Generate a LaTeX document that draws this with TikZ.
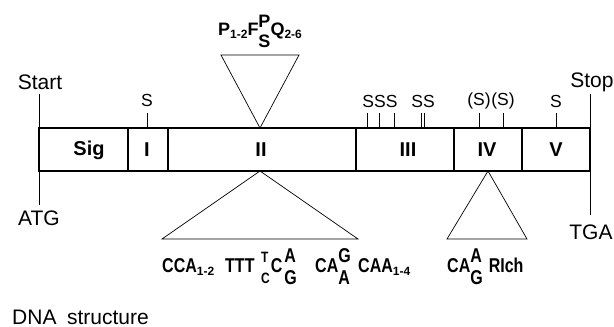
\documentclass[tikz,border=0pt]{standalone}
\usepackage{fontspec}
\setmainfont{Liberation Sans}
\newfontfamily\seqfont[FakeStretch=0.8]{Liberation Sans}
\newfontfamily\subfont{Liberation Sans}
% stacked pair of letters: one raised, one lowered
\newcommand\stk[4]{\rlap{\raisebox{#3}{#1}}\raisebox{-#4}{#2}}
\newcommand\lowsub[1]{\raisebox{-3pt}{\subfont\bfseries\fontsize{12}{12}\selectfont #1}}
\begin{document}
\begin{tikzpicture}[x=1pt,y=-1pt,
  seg/.style={draw, line width=1.3pt, minimum height=43pt, inner sep=0pt, outer sep=0pt},
  seglabel/.style={font=\fontsize{20}{20}\selectfont\bfseries, inner sep=0pt},
  lab/.style={font=\fontsize{21}{21}\selectfont, inner sep=0pt},
  site/.style={font=\fontsize{17.5}{17.5}\selectfont, inner sep=0pt},
  seqtext/.style={font=\seqfont\bfseries\fontsize{20}{20}\selectfont, inner sep=0pt, anchor=base west},
  tick/.style={line width=0.8pt},
  thin/.style={line width=0.7pt}]
\useasboundingbox (0,0) rectangle (614,327);

% the gene, segment by segment
\node[seg, minimum width=89pt]  (sig) at (83.5,149.5) {};
\node[seg, minimum width=40pt]  (one) at (148,149.5) {};
\node[seg, minimum width=188pt] (two) at (262,149.5) {};
\node[seg, minimum width=98pt]  (three) at (405,149.5) {};
\node[seg, minimum width=68pt]  (four) at (488,149.5) {};
\node[seg, minimum width=68pt]  (five) at (556,149.5) {};

\node[seglabel] (lsig) at (89,150) {Sig};
\node[seglabel] (lone) at (147,150) {I};
\node[seglabel] (ltwo) at (261,150) {II};
\node[seglabel] (lthree) at (408,150) {III};
\node[seglabel] (lfour) at (487,150) {IV};
\node[seglabel] (lfive) at (556,150) {V};

% start and stop
\node[lab] (start) at (40,82) {Start};
\node[lab] (atg) at (39,218) {ATG};
\node[lab] (stop) at (592,82) {Stop};
\node[lab] (tga) at (591,232) {TGA};
\coordinate (st) at (39,94);
\coordinate (sb) at (39,205);
\coordinate (pt) at (590,94);
\coordinate (pb) at (590,215);
\draw[tick] (st) -- (sig.north west);
\draw[tick] (sig.south west) -- (sb);
\draw[tick] (pt) -- (five.north east);
\draw[tick] (five.south east) -- (pb);

% serine sites
\node[site] (s1) at (147,100) {S};
\draw[tick] (147,113) -- (147,128);
\node[site] (s3) at (380,101) {SSS};
\node[site] (s2) at (423,101) {SS};
\foreach \x in {367,379,394,421.5,424.5} \draw[tick] (\x,113) -- (\x,128);
\node[site] (ps1) at (479,101) {(S)};
\node[site] (ps2) at (503,101) {(S)};
\draw[tick] (479,113) -- (479,128);
\draw[tick] (503,113) -- (503,128);
\node[site] (s5) at (556,101) {S};
\draw[tick] (556,113) -- (556,128);

% insertion above domain II
\coordinate (apexA) at (260,128);
\draw[thin] (221,55) -- (299,55) -- (apexA) -- cycle;
\node[inner sep=0pt, anchor=base, font=\bfseries\fontsize{18}{18}\selectfont] (pep) at (260,35)
  {P\lowsub{1-2}F\stk{P}{S}{8pt}{12pt}Q\lowsub{2-6}};

% repeat below domain II
\coordinate (apexB) at (260,171);
\draw[thin] (apexB) -- (358,239) -- (162,239) -- cycle;
\node[seqtext] (cca) at (162,272) {CCA\lowsub{1-2}};
\node[seqtext] (ttt) at (225,272) {TTT};
\node[seqtext] (tcag) at (261,272)
  {\stk{\fontsize{15}{15}\selectfont T}{\fontsize{15}{15}\selectfont C}{10pt}{11pt}\hspace{1pt}C\hspace{2pt}\stk{A}{G}{10pt}{12pt}};
\node[seqtext] (caga) at (315,272) {CA\stk{G}{A}{10pt}{12pt}};
\node[seqtext] (caa) at (358,272) {CAA\lowsub{1-4}};

% repeat below domain IV
\coordinate (apexC) at (488,171);
\draw[thin] (apexC) -- (527,239) -- (447,239) -- cycle;
\node[seqtext] (cag) at (447,272) {CA\stk{A}{G}{10pt}{12pt}\hspace{6pt}RIch};

\node[lab, anchor=base west] (dna) at (12,324) {DNA\hspace{0.5em}structure};
\end{tikzpicture}
\end{document}
